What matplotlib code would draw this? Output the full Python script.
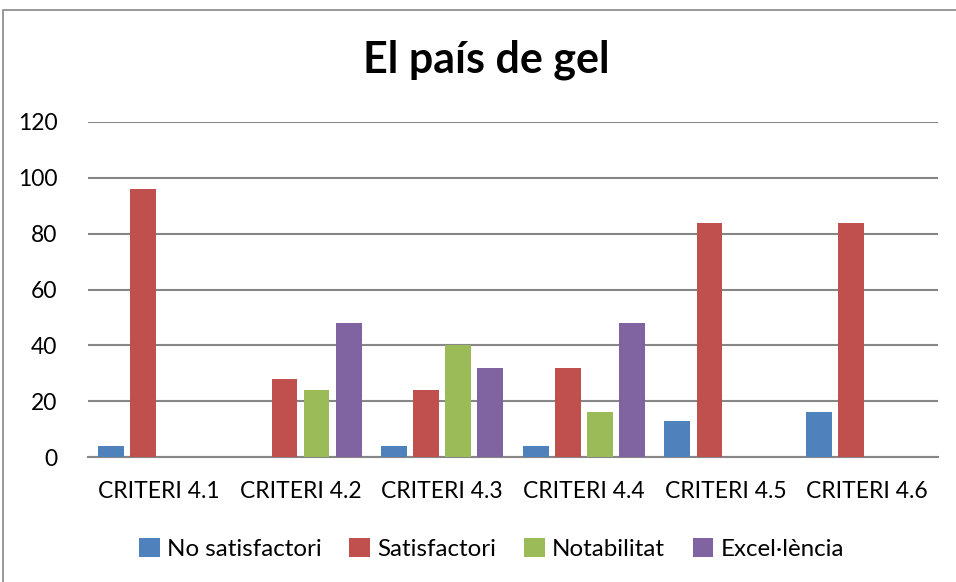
import matplotlib.pyplot as plt
import numpy as np
from matplotlib.patches import Rectangle

plt.rcParams['font.family'] = ['Lato', 'DejaVu Sans']

categories = ['CRITERI 4.1', 'CRITERI 4.2', 'CRITERI 4.3', 'CRITERI 4.4', 'CRITERI 4.5', 'CRITERI 4.6']
series = ['No satisfactori', 'Satisfactori', 'Notabilitat', 'Excel·lència']
no_satisfactori = [4, 0, 4, 4, 13, 16]
satisfactori = [96, 28, 24, 32, 84, 84]
notabilitat = [0, 24, 40, 16, 0, 0]
excellencia = [0, 48, 32, 48, 0, 0]
yticks = [0, 20, 40, 60, 80, 100, 120]

colors = ['#4F81BD', '#C0504D', '#9BBB59', '#8064A2']
values = [no_satisfactori, satisfactori, notabilitat, excellencia]

fig = plt.figure(figsize=(9.56, 5.82), dpi=100)
ax = fig.add_axes([88/956, 1 - 457/582, (938 - 88)/956, (457 - 122)/582])

x = np.arange(len(categories))
pitch = 0.2259
width = 0.1835
for i, (name, vals, c) in enumerate(zip(series, values, colors)):
    ax.bar(x + (i - 1.5) * pitch, vals, width, color=c, label=name, zorder=3)

ax.set_xlim(-0.5, len(categories) - 0.5)
ax.set_ylim(0, 120)
ax.set_yticks(yticks)
ax.set_xticks(x)
ax.set_xticklabels(categories)
ax.grid(axis='y', color='#868686', linewidth=1.5, zorder=0)
for s in ['top', 'right', 'left']:
    ax.spines[s].set_visible(False)
ax.spines['bottom'].set_color('#868686')
ax.spines['bottom'].set_linewidth(1.5)
ax.tick_params(axis='both', length=0, labelsize=16.5)
ax.tick_params(axis='y', pad=22)
ax.tick_params(axis='x', pad=17)

fig.suptitle('El país de gel', x=0.509, y=1 - 73/582, va='baseline', fontsize=31, fontweight='bold')

ax.legend(loc='center', bbox_to_anchor=(0.4747, -0.2746), ncol=4, frameon=False,
          fontsize=17.4, handlelength=0.85, handleheight=0.85, handletextpad=0.3,
          columnspacing=1.15)

fig.add_artist(Rectangle((3/956, -0.1), 1.2, 1 - 10/582 + 0.1, transform=fig.transFigure,
                         fill=False, edgecolor='#888888', linewidth=1.2))

fig.savefig('out.png', dpi=100)
